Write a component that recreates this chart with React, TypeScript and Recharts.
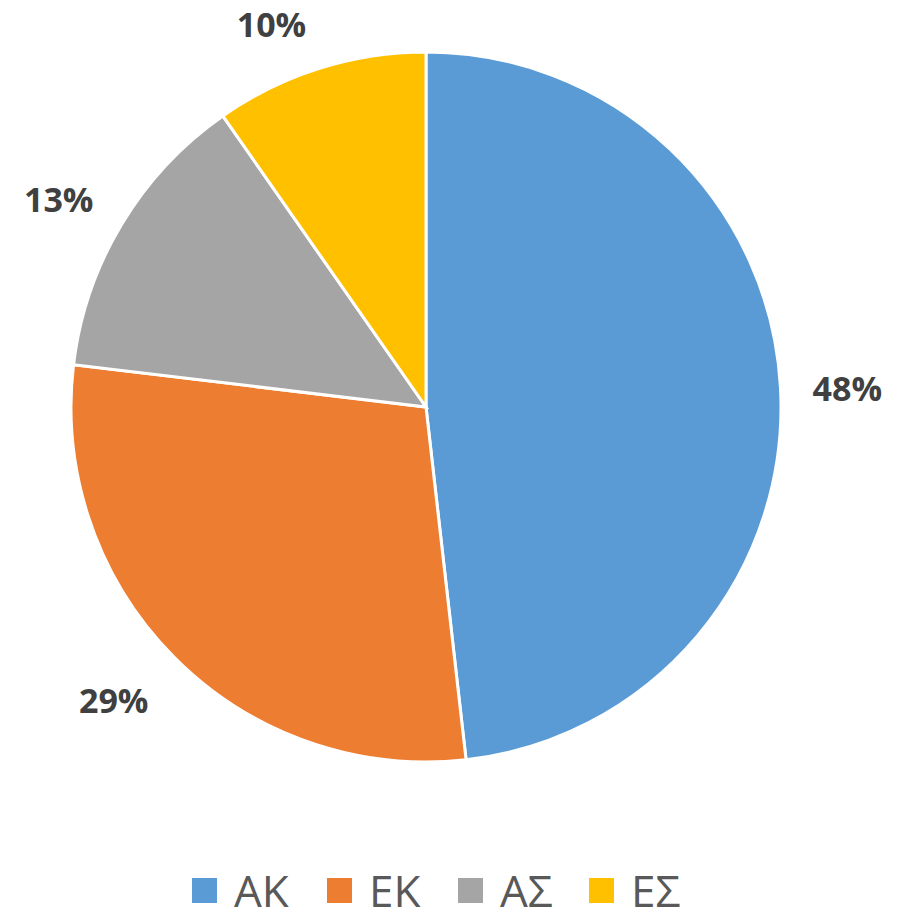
import React from 'react';
import { PieChart, Pie, Cell, Legend } from 'recharts';

const categories = ['ΑΚ', 'ΕΚ', 'ΑΣ', 'ΕΣ'];
const values = [48.2, 28.7, 13.4, 9.7];
const labels = ['48%', '29%', '13%', '10%'];
const colors = ['#5B9BD5', '#ED7D31', '#A5A5A5', '#FFC000'];

const data = categories.map((name, i) => ({ name, value: values[i], label: labels[i] }));

// label placement style: nudge from radial anchor (Excel "outside end" layout)
const labelNudge = [
  [17, 4],
  [-25, 8],
  [-20, 0],
  [-33, 3],
];

const RADIAN = Math.PI / 180;

const renderLabel = (props: any) => {
  const { cx, cy, midAngle, index } = props;
  const r = 405;
  const x = cx + r * Math.cos(-midAngle * RADIAN) + labelNudge[index][0];
  const y = cy + r * Math.sin(-midAngle * RADIAN) + labelNudge[index][1];
  return (
    <text
      x={x}
      y={y}
      fill="#404040"
      textAnchor="middle"
      dominantBaseline="central"
      fontFamily="'Open Sans', sans-serif"
      fontWeight={700}
      fontSize={34}
    >
      {data[index].label}
    </text>
  );
};

const legendLeft = [192, 327, 458, 589];

const renderLegend = () => (
  <div style={{ position: 'relative', width: 899, height: 64 }}>
    {data.map((d, i) => (
      <div
        key={d.name}
        style={{
          position: 'absolute',
          left: legendLeft[i],
          top: 0,
          display: 'flex',
          alignItems: 'center',
          height: 64,
          whiteSpace: 'nowrap',
        }}
      >
        <div style={{ width: 25, height: 25, background: colors[i] }} />
        <span
          style={{
            marginLeft: 17,
            fontFamily: "'Open Sans', sans-serif",
            fontSize: 44,
            color: '#595959',
            lineHeight: '64px',
          }}
        >
          {d.name}
        </span>
      </div>
    ))}
  </div>
);

export default function App() {
  return (
    <div style={{ position: 'absolute', left: 0, top: 0, width: 899, height: 908, background: '#fff' }}>
      <PieChart width={899} height={908} margin={{ top: 0, right: 0, bottom: 0, left: 0 }}>
        <Pie
          data={data}
          dataKey="value"
          nameKey="name"
          cx={426}
          cy={407}
          outerRadius={355}
          startAngle={90}
          endAngle={-270}
          stroke="#ffffff"
          strokeWidth={3}
          label={renderLabel}
          labelLine={false}
          isAnimationActive={false}
        >
          {data.map((d, i) => (
            <Cell key={d.name} fill={colors[i]} />
          ))}
        </Pie>
        <Legend
          content={renderLegend}
          wrapperStyle={{ position: 'absolute', left: 0, top: 858, width: 899, height: 64 }}
        />
      </PieChart>
    </div>
  );
}
